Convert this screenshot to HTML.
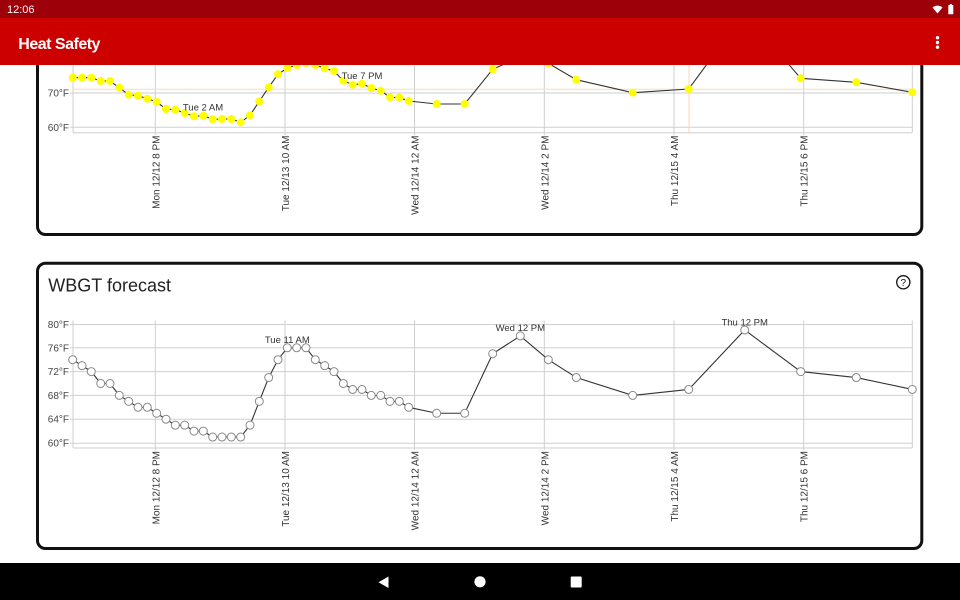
<!DOCTYPE html>
<html>
<head>
<meta charset="utf-8">
<style>
html,body{margin:0;padding:0;background:#fff;width:960px;height:600px;overflow:hidden;}
svg{display:block;font-family:"Liberation Sans",Arial,sans-serif;}
</style>
</head>
<body>
<svg width="960" height="600" viewBox="0 0 960 600" xmlns="http://www.w3.org/2000/svg">
  <rect x="0" y="0" width="960" height="600" fill="#ffffff"/>

  <!-- ============ TOP CARD ============ -->
  <rect x="37.5" y="-30" width="884.3" height="264.5" rx="8" ry="8" fill="#fff" stroke="#111" stroke-width="3"/>
  <!-- horizontal gridlines -->
  <g stroke="#cfcfcf" stroke-width="1">
    <line x1="70" y1="59" x2="912.3" y2="59"/>
    <line x1="70" y1="93" x2="912.3" y2="93"/>
    <line x1="70" y1="127.3" x2="912.3" y2="127.3"/>
    <line x1="73" y1="132.7" x2="912.3" y2="132.7"/>
    <line x1="73" y1="40" x2="73" y2="132.7"/>
    <line x1="912.3" y1="40" x2="912.3" y2="132.7"/>
    <line x1="155.3" y1="40" x2="155.3" y2="135"/>
    <line x1="285" y1="40" x2="285" y2="135"/>
    <line x1="414.5" y1="40" x2="414.5" y2="135"/>
    <line x1="544.3" y1="40" x2="544.3" y2="135"/>
    <line x1="674" y1="40" x2="674" y2="135"/>
    <line x1="803.7" y1="40" x2="803.7" y2="135"/>
  </g>
  <!-- orange reference lines -->
  <line x1="73" y1="89.3" x2="912.3" y2="89.3" stroke="#fbdcbc" stroke-width="1"/>
  <line x1="689" y1="40" x2="689" y2="132.7" stroke="#fbd6b0" stroke-width="1"/>
  <!-- y labels -->
  <g font-size="10" fill="#444" text-anchor="end">
    <text x="69" y="62.5">80°F</text>
    <text x="69" y="96.5">70°F</text>
    <text x="69" y="130.8">60°F</text>
  </g>
  <!-- series -->
  <polyline fill="none" stroke="#333" stroke-width="1.1" points="72.7,77.7 82,77.7 91.3,77.7 100.7,81 110,81 119.3,87.7 128.7,94.7 138,95.7 147.3,98.7 156.7,102 166,109 175.3,109.7 184.7,113 194,116.3 203.3,115.7 212.7,119.3 222,119 231.3,119 240.7,122.3 250,115.3 259.3,101.3 268.7,87.3 278,74.3 287.3,68 296.7,65 306,63 315.3,65 324.7,68.3 334,71 343.3,80.7 352.7,84.7 362,83.7 371.3,88 380.7,90.7 390,97.3 399.3,97.7 408.7,101 436.7,104 464.7,104 492.7,69.3 520.3,57 548.3,63.3 576.3,79.7 632.7,92.7 688.7,89 744.7,13 800.7,78.3 856.3,82.3 912.3,92.3"/>
  <g fill="#ffff00">
    <circle cx="72.7" cy="77.7" r="4"/><circle cx="82" cy="77.7" r="4"/><circle cx="91.3" cy="77.7" r="4"/>
    <circle cx="100.7" cy="81" r="4"/><circle cx="110" cy="81" r="4"/><circle cx="119.3" cy="87.7" r="4"/>
    <circle cx="128.7" cy="94.7" r="4"/><circle cx="138" cy="95.7" r="4"/><circle cx="147.3" cy="98.7" r="4"/>
    <circle cx="156.7" cy="102" r="4"/><circle cx="166" cy="109" r="4"/><circle cx="175.3" cy="109.7" r="4"/>
    <circle cx="184.7" cy="113" r="4"/><circle cx="194" cy="116.3" r="4"/><circle cx="203.3" cy="115.7" r="4"/>
    <circle cx="212.7" cy="119.3" r="4"/><circle cx="222" cy="119" r="4"/><circle cx="231.3" cy="119" r="4"/>
    <circle cx="240.7" cy="122.3" r="4"/><circle cx="250" cy="115.3" r="4"/><circle cx="259.3" cy="101.3" r="4"/>
    <circle cx="268.7" cy="87.3" r="4"/><circle cx="278" cy="74.3" r="4"/><circle cx="287.3" cy="68" r="4"/>
    <circle cx="296.7" cy="65" r="4"/><circle cx="306" cy="63" r="4"/><circle cx="315.3" cy="65" r="4"/>
    <circle cx="324.7" cy="68.3" r="4"/><circle cx="334" cy="71" r="4"/><circle cx="343.3" cy="80.7" r="4"/>
    <circle cx="352.7" cy="84.7" r="4"/><circle cx="362" cy="83.7" r="4"/><circle cx="371.3" cy="88" r="4"/>
    <circle cx="380.7" cy="90.7" r="4"/><circle cx="390" cy="97.3" r="4"/><circle cx="399.3" cy="97.7" r="4"/>
    <circle cx="408.7" cy="101" r="4"/><circle cx="436.7" cy="104" r="4"/><circle cx="464.7" cy="104" r="4"/>
    <circle cx="492.7" cy="69.3" r="4"/><circle cx="520.3" cy="57" r="4"/><circle cx="548.3" cy="63.3" r="4"/>
    <circle cx="576.3" cy="79.7" r="4"/><circle cx="632.7" cy="92.7" r="4"/><circle cx="688.7" cy="89" r="4"/>
    <circle cx="744.7" cy="13" r="4"/><circle cx="800.7" cy="78.3" r="4"/><circle cx="856.3" cy="82.3" r="4"/>
    <circle cx="912.3" cy="92.3" r="4"/>
  </g>
  <g font-size="9.5" fill="#333" text-anchor="middle">
    <text x="203" y="110.5">Tue 2 AM</text>
    <text x="362" y="79">Tue 7 PM</text>
  </g>
  <!-- x labels top -->
  <g font-size="10" fill="#333" text-anchor="end">
    <text transform="translate(159.3,135.5) rotate(-90)">Mon 12/12 8 PM</text>
    <text transform="translate(289,135.5) rotate(-90)">Tue 12/13 10 AM</text>
    <text transform="translate(418.5,135.5) rotate(-90)">Wed 12/14 12 AM</text>
    <text transform="translate(548.3,135.5) rotate(-90)">Wed 12/14 2 PM</text>
    <text transform="translate(678,135.5) rotate(-90)">Thu 12/15 4 AM</text>
    <text transform="translate(807.7,135.5) rotate(-90)">Thu 12/15 6 PM</text>
  </g>

  <!-- ============ BOTTOM CARD ============ -->
  <rect x="37.5" y="263.2" width="884.3" height="285.3" rx="8" ry="8" fill="#fff" stroke="#111" stroke-width="3"/>
  <text x="48.3" y="291.7" font-size="18" fill="#222">WBGT forecast</text>
  <circle cx="903.3" cy="282.3" r="6.6" fill="none" stroke="#111" stroke-width="1.3"/>
  <text x="903.3" y="286" font-size="10" fill="#111" text-anchor="middle">?</text>

  <g stroke="#cfcfcf" stroke-width="1">
    <line x1="70" y1="324.5" x2="912.3" y2="324.5"/>
    <line x1="70" y1="347.8" x2="912.3" y2="347.8"/>
    <line x1="70" y1="371.6" x2="912.3" y2="371.6"/>
    <line x1="70" y1="395.4" x2="912.3" y2="395.4"/>
    <line x1="70" y1="419.2" x2="912.3" y2="419.2"/>
    <line x1="70" y1="443.2" x2="912.3" y2="443.2"/>
    <line x1="73" y1="448" x2="912.3" y2="448"/>
    <line x1="73" y1="320.5" x2="73" y2="448"/>
    <line x1="912.3" y1="320.5" x2="912.3" y2="448"/>
    <line x1="155.3" y1="320.5" x2="155.3" y2="450"/>
    <line x1="285" y1="320.5" x2="285" y2="450"/>
    <line x1="414.5" y1="320.5" x2="414.5" y2="450"/>
    <line x1="544.3" y1="320.5" x2="544.3" y2="450"/>
    <line x1="674" y1="320.5" x2="674" y2="450"/>
    <line x1="803.7" y1="320.5" x2="803.7" y2="450"/>
  </g>
  <g font-size="10" fill="#444" text-anchor="end">
    <text x="69" y="328">80°F</text>
    <text x="69" y="351.3">76°F</text>
    <text x="69" y="375.1">72°F</text>
    <text x="69" y="398.9">68°F</text>
    <text x="69" y="422.7">64°F</text>
    <text x="69" y="446.5">60°F</text>
  </g>
  <polyline fill="none" stroke="#333" stroke-width="1.1" points="72.7,359.7 82,365.65 91.3,371.6 100.7,383.5 110,383.5 119.3,395.4 128.7,401.35 138,407.3 147.3,407.3 156.7,413.25 166,419.2 175.3,425.15 184.7,425.15 194,431.1 203.3,431.1 212.7,437.05 222,437.05 231.3,437.05 240.7,437.05 250,425.15 259.3,401.35 268.7,377.55 278,359.7 287.3,347.8 296.7,347.8 306,347.8 315.3,359.7 324.7,365.65 334,371.6 343.3,383.5 352.7,389.45 362,389.45 371.3,395.4 380.7,395.4 390,401.35 399.3,401.35 408.7,407.3 436.7,413.25 464.7,413.25 492.7,353.75 520.3,335.9 548.3,359.7 576.3,377.55 632.7,395.4 688.7,389.45 744.7,329.95 800.7,371.6 856.3,377.55 912.3,389.45"/>
  <g fill="#fff" stroke="#888" stroke-width="1">
    <circle cx="72.7" cy="359.7" r="4"/><circle cx="82" cy="365.65" r="4"/><circle cx="91.3" cy="371.6" r="4"/>
    <circle cx="100.7" cy="383.5" r="4"/><circle cx="110" cy="383.5" r="4"/><circle cx="119.3" cy="395.4" r="4"/>
    <circle cx="128.7" cy="401.35" r="4"/><circle cx="138" cy="407.3" r="4"/><circle cx="147.3" cy="407.3" r="4"/>
    <circle cx="156.7" cy="413.25" r="4"/><circle cx="166" cy="419.2" r="4"/><circle cx="175.3" cy="425.15" r="4"/>
    <circle cx="184.7" cy="425.15" r="4"/><circle cx="194" cy="431.1" r="4"/><circle cx="203.3" cy="431.1" r="4"/>
    <circle cx="212.7" cy="437.05" r="4"/><circle cx="222" cy="437.05" r="4"/><circle cx="231.3" cy="437.05" r="4"/>
    <circle cx="240.7" cy="437.05" r="4"/><circle cx="250" cy="425.15" r="4"/><circle cx="259.3" cy="401.35" r="4"/>
    <circle cx="268.7" cy="377.55" r="4"/><circle cx="278" cy="359.7" r="4"/><circle cx="287.3" cy="347.8" r="4"/>
    <circle cx="296.7" cy="347.8" r="4"/><circle cx="306" cy="347.8" r="4"/><circle cx="315.3" cy="359.7" r="4"/>
    <circle cx="324.7" cy="365.65" r="4"/><circle cx="334" cy="371.6" r="4"/><circle cx="343.3" cy="383.5" r="4"/>
    <circle cx="352.7" cy="389.45" r="4"/><circle cx="362" cy="389.45" r="4"/><circle cx="371.3" cy="395.4" r="4"/>
    <circle cx="380.7" cy="395.4" r="4"/><circle cx="390" cy="401.35" r="4"/><circle cx="399.3" cy="401.35" r="4"/>
    <circle cx="408.7" cy="407.3" r="4"/><circle cx="436.7" cy="413.25" r="4"/><circle cx="464.7" cy="413.25" r="4"/>
    <circle cx="492.7" cy="353.75" r="4"/><circle cx="520.3" cy="335.9" r="4"/><circle cx="548.3" cy="359.7" r="4"/>
    <circle cx="576.3" cy="377.55" r="4"/><circle cx="632.7" cy="395.4" r="4"/><circle cx="688.7" cy="389.45" r="4"/>
    <circle cx="744.7" cy="329.95" r="4"/><circle cx="800.7" cy="371.6" r="4"/><circle cx="856.3" cy="377.55" r="4"/>
    <circle cx="912.3" cy="389.45" r="4"/>
  </g>
  <g font-size="9.5" fill="#333" text-anchor="middle">
    <text x="287.3" y="343">Tue 11 AM</text>
    <text x="520.3" y="331">Wed 12 PM</text>
    <text x="744.7" y="325.5">Thu 12 PM</text>
  </g>
  <g font-size="10" fill="#333" text-anchor="end">
    <text transform="translate(159.3,451) rotate(-90)">Mon 12/12 8 PM</text>
    <text transform="translate(289,451) rotate(-90)">Tue 12/13 10 AM</text>
    <text transform="translate(418.5,451) rotate(-90)">Wed 12/14 12 AM</text>
    <text transform="translate(548.3,451) rotate(-90)">Wed 12/14 2 PM</text>
    <text transform="translate(678,451) rotate(-90)">Thu 12/15 4 AM</text>
    <text transform="translate(807.7,451) rotate(-90)">Thu 12/15 6 PM</text>
  </g>

  <!-- ============ STATUS BAR & APP BAR ============ -->
  <rect x="0" y="0" width="960" height="18" fill="#9e000a"/>
  <text x="7" y="13" font-size="11" fill="#fff">12:06</text>
  <path d="M937.5,13.5 L932.5,7.5 A7.5,7.5 0 0 1 942.5,7.5 Z" fill="#fff"/>
  <rect x="948.3" y="5" width="5" height="9.3" rx="0.6" fill="#fff"/>
  <rect x="949.8" y="4" width="2" height="1.5" fill="#fff"/>

  <rect x="0" y="18" width="960" height="47" fill="#cd0000"/>
  <text x="18.3" y="49" font-size="16" font-weight="bold" fill="#fff" letter-spacing="-0.5">Heat Safety</text>
  <g fill="#fff">
    <circle cx="937.5" cy="37.7" r="1.7"/>
    <circle cx="937.5" cy="42.5" r="1.7"/>
    <circle cx="937.5" cy="47.2" r="1.7"/>
  </g>

  <!-- ============ NAV BAR ============ -->
  <rect x="0" y="563" width="960" height="37" fill="#000"/>
  <path d="M378.5,582.3 L388.5,576.5 L388.5,588 Z" fill="#fff"/>
  <circle cx="480" cy="581.8" r="5.6" fill="#fff"/>
  <rect x="570.7" y="576.5" width="11" height="11" rx="1" fill="#fff"/>
</svg>
</body>
</html>
